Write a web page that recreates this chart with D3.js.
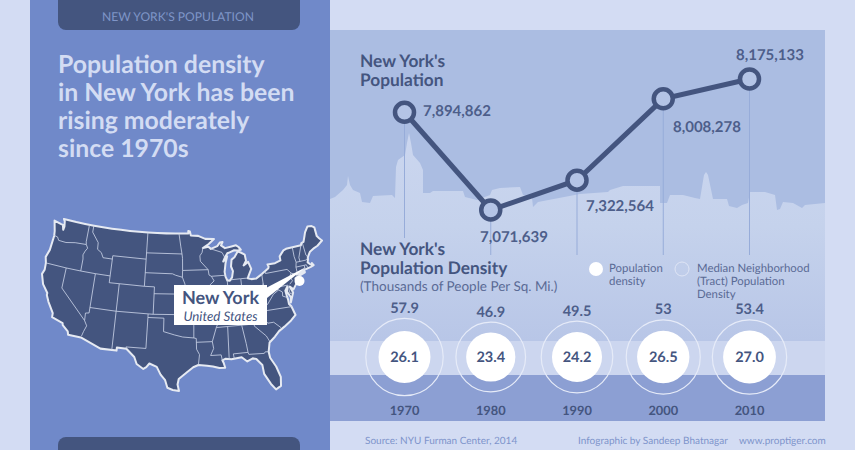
<!DOCTYPE html>
<html>
<head>
<meta charset="utf-8">
<script src="https://cdnjs.cloudflare.com/ajax/libs/d3/7.8.5/d3.min.js"></script>
<style>
  html, body { margin: 0; padding: 0; background: #d3dcf3; overflow: hidden; }
  svg { display: block; }
  text { font-family: Lato, sans-serif; text-rendering: geometricPrecision; }
</style>
</head>
<body>
<svg id="chart" width="855" height="450"></svg>
<script>
// chart values
const years = [1970, 1980, 1990, 2000, 2010];
const population = [7894862, 7071639, 7322564, 8008278, 8175133];
const density = [26.1, 23.4, 24.2, 26.5, 27.0];
const medianDensity = ["57.9", "46.9", "49.5", "53", "53.4"];
const headline = ["Population density", "in New York has been", "rising moderately", "since 1970s"];

// skyline silhouette: distance along the panel, height above the light band
const skyline = [[0,142],[5,144],[13,151],[17,156],[18,165],[20,156],[23,151],[30,148],[32,139],[40,138],[43,145],
  [62,146],[65,143],[66,174],[68,181],[75,186],[77,198],[79,208],[81,198],[83,186],[90,178],[93,171],[93,148],
  [100,148],[103,150],[133,150],[135,144],[147,141],[160,146],[162,151],[170,153],[190,154],[193,146],[202,143],
  [203,134],[208,139],[250,147],[278,149],[280,151],[293,155],[294,155],[330,155],[330,138],[331,138],[337,138],
  [340,146],[353,146],[365,143],[370,142],[374,166],[376,169],[378,166],[383,142],[397,142],[399,135],[407,133],
  [412,136],[418,138],[420,149],[435,149],[445,146],[447,131],[450,132],[453,139],[463,138],[472,133],[475,136],[495,138]];

// state outline and borders as lon/lat
const usOutline = [[-124.7,48.4],[-123.1,48.15],[-122.7,48.1],[-122.4,47.4],[-122.3,47.9],[-122.5,48.7],[-122.8,49],
  [-120,49],[-118,49],[-116,49],[-114,49],[-112,49],[-110,49],[-108,49],[-106,49],[-104,49],[-102,49],[-100,49],[-98,49],
  [-97.2,49],[-95.15,49],[-95.15,49.38],[-94.8,49.3],[-94.6,48.7],[-93,48.6],[-91.5,48.1],[-89.6,48],[-90.8,47.3],[-92.1,46.75],
  [-90.9,46.9],[-90.4,46.55],[-89,46.9],[-88.4,47.4],[-87.8,47.45],[-88.2,46.95],[-87.4,46.5],[-86,46.65],[-85,46.75],[-84.5,46.45],
  [-84.1,46],[-84.7,45.95],[-85.5,46.05],[-86.5,45.8],[-87,45.7],[-87.6,45.1],[-88,44.55],[-87.4,44.9],[-87.1,45.25],[-87.55,44.3],
  [-87.9,43],[-87.8,42.3],[-87.5,41.7],[-87,41.65],[-86.5,42.1],[-86.2,43],[-86.5,43.7],[-86.25,44.7],[-85.6,45],[-85,45.6],[-84.75,45.78],
  [-84.2,45.6],[-83.4,45.2],[-83.3,44.3],[-83.9,43.65],[-82.9,44.07],[-82.45,43],[-82.9,42.4],[-83.2,42],[-83.4,41.7],[-82.7,41.5],
  [-81.7,41.5],[-80.5,42],[-79,42.7],[-78.9,42.9],[-79.05,43.27],[-77.5,43.25],[-76.3,43.5],[-76.3,44.1],[-75.3,44.85],[-74.7,45],
  [-71.5,45],[-71.3,45.3],[-70.8,45.4],[-70.3,46.2],[-70,46.7],[-69.2,47.45],[-68.3,47.35],[-67.8,47.05],[-67.8,45.7],[-67.45,45.3],
  [-67,44.85],[-68.2,44.3],[-69,44.1],[-70,43.75],[-70.7,43.05],[-70.8,42.7],[-71,42.3],[-70.6,41.95],[-70,41.75],[-70.2,42.05],
  [-69.95,41.7],[-70.6,41.55],[-71.4,41.45],[-72.9,41.25],[-73.7,40.95],[-72,41.1],[-72,41],[-73.9,40.55],[-74.1,40.45],[-74,39.8],
  [-74.9,38.95],[-75.5,39.45],[-75.1,38.5],[-75.9,37.15],[-75.7,37.9],[-76.2,38.8],[-76,39.5],[-76.5,39],[-76.4,38.2],[-76.3,37.6],
  [-76.3,37],[-75.95,36.6],[-75.5,35.25],[-76.5,34.6],[-77.9,33.9],[-79,33.4],[-79.9,32.7],[-81,32],[-81.4,30.7],[-81.3,29.8],
  [-80.5,28.4],[-80,26.8],[-80.2,25.5],[-81.1,25.1],[-81.8,26],[-82.7,27.6],[-82.8,28.9],[-83.7,29.9],[-84.3,30.05],[-85.3,29.7],
  [-86.2,30.4],[-88,30.25],[-89,30.4],[-89.6,30.2],[-89.4,29.8],[-89.2,29.1],[-90.2,29.1],[-91.3,29.4],[-92.3,29.55],[-93.8,29.7],
  [-94.7,29.4],[-95.9,28.6],[-97.2,27.7],[-97.4,26.9],[-97.15,25.95],[-98.2,26.1],[-99.1,26.4],[-99.5,27.5],[-100.3,28.3],[-101,29.4],
  [-102.3,29.85],[-102.8,29.3],[-103.3,29],[-104.5,29.65],[-105,30.65],[-106.5,31.75],[-108.2,31.78],[-108.2,31.33],[-111.07,31.33],
  [-114.8,32.5],[-117.12,32.53],[-117.3,33],[-118.4,33.75],[-118.5,34.03],[-120.6,34.55],[-120.65,35.15],[-121.9,36.6],[-122.5,37.5],
  [-122.5,37.8],[-123.7,38.9],[-124.4,40.3],[-124.1,41],[-124.2,42],[-124.55,42.85],[-124.1,44],[-123.95,46.2],[-124.1,46.9],[-124.7,48.4]];

const usBorders = [
  [[-124,46.25],[-123.2,46.15],[-122.8,45.7],[-121.2,45.65],[-119.3,45.93],[-116.92,46]],
  [[-117.03,49],[-117.04,46.4],[-116.92,46],[-116.5,45.5],[-116.9,45],[-117.2,44.4],[-117.03,43.8],[-117.03,42]],
  [[-124.2,42],[-120,42],[-117.03,42],[-114.04,42],[-111.05,42]],
  [[-120,42],[-120,39],[-114.63,35],[-114.1,34.3],[-114.5,33.4],[-114.72,32.72]],
  [[-114.04,42],[-114.04,36.2],[-114.7,36.1],[-114.63,35]],
  [[-116.05,49],[-116.05,48],[-114.5,46.6],[-114.4,45.6],[-113.5,45.2],[-113,44.5],[-111.05,44.5]],
  [[-111.05,45],[-104.05,45],[-104.05,41],[-111.05,41],[-111.05,45]],
  [[-109.05,41],[-109.05,37]],
  [[-104.05,41],[-102.05,41],[-102.05,37],[-109.05,37]],
  [[-114.04,37],[-109.05,37],[-109.05,31.33]],
  [[-103,37],[-103,36.5],[-103.05,32],[-106.6,32],[-106.5,31.75]],
  [[-103,36.5],[-100,36.5],[-100,34.55],[-98,34.1],[-96.5,33.8],[-94.48,33.64],[-94.04,33.55],[-94.04,32],[-93.55,31.2],[-93.8,29.7]],
  [[-102.05,37],[-94.62,37],[-94.43,35.4],[-94.48,33.64]],
  [[-94.04,33],[-91.17,33],[-91,32],[-91.6,31],[-89.75,31],[-89.6,30.2]],
  [[-104.05,43],[-98.5,43],[-97.9,42.8],[-96.5,42.5]],
  [[-102.05,40],[-95.3,40]],
  [[-104.05,49],[-104.05,45]],
  [[-104.05,45.94],[-96.56,45.94]],
  [[-97.2,49],[-96.8,47],[-96.56,45.94],[-96.45,45.3],[-96.45,43.5],[-96.5,42.5],[-96,41.5],[-95.85,40.6],[-95.3,40],[-94.62,39.1],[-94.62,37]],
  [[-96.45,43.5],[-91.22,43.5]],
  [[-95.77,40.58],[-91.7,40.6],[-91.4,40.4]],
  [[-92.1,46.75],[-92.3,46.1],[-92.8,45.6],[-92.75,44.8],[-91.22,43.5],[-91.1,42.7],[-90.64,42.5],[-90.15,41.8],[-91.1,41.2],[-91.4,40.4],[-90.7,39],[-90.2,38.7],[-89.5,37.3],[-89.15,37],[-89.4,36.5],[-89.7,36],[-90.3,35],[-91.17,33]],
  [[-90.64,42.5],[-87.8,42.5]],
  [[-90.4,46.55],[-88.1,45.9],[-87.6,45.1]],
  [[-87.53,41.7],[-87.53,39.3],[-88.05,37.8]],
  [[-86.8,41.76],[-84.8,41.76],[-83.45,41.73]],
  [[-84.8,41.7],[-84.8,39.1]],
  [[-89.15,37],[-88.05,37.8],[-86.5,38],[-85.5,38.6],[-84.8,39.1],[-84.2,38.8],[-82.6,38.4],[-81.8,39],[-80.85,39.7],[-80.52,40.64],[-80.52,42]],
  [[-79.76,42.27],[-79.76,42],[-75.35,42],[-74.7,41.35],[-75.1,40.9],[-74.75,40.2],[-75.4,39.8]],
  [[-80.52,40.64],[-80.52,39.72],[-75.8,39.72],[-75.7,38.46],[-75.05,38.46]],
  [[-79.48,39.72],[-79.48,39.2],[-78.4,39.6],[-77.75,39.3],[-77.1,38.9],[-77.2,38.3],[-76.3,37.95]],
  [[-77.75,39.3],[-78.9,38.8],[-80.3,37.5],[-81.7,37.2],[-82,37.5],[-82.6,38.4]],
  [[-82,37.5],[-83.68,36.6]],
  [[-89.4,36.5],[-83.68,36.6],[-75.9,36.55]],
  [[-94.62,36.5],[-90.15,36.5],[-90.35,36],[-89.7,36]],
  [[-90.3,35],[-84.3,35],[-83.1,35],[-83.35,34.7],[-81.4,33],[-80.9,32.05]],
  [[-84.3,35],[-83.1,35.75],[-81.7,36.59]],
  [[-88.2,35],[-88.4,30.25]],
  [[-85.6,35],[-85.15,32.3],[-85,31],[-84.9,30.7],[-82.2,30.55],[-82,30.75],[-81.45,30.7]],
  [[-87.6,31],[-85,31]],
  [[-87.6,31],[-87.5,30.3]],
  [[-83.1,35],[-82.3,35.2],[-81,35.1],[-80.8,34.8],[-79.7,34.8],[-78.55,33.85]],
  [[-73.35,45],[-73.4,43.6],[-73.25,42.75],[-73.5,42.05],[-73.5,41.3],[-73.7,41]],
  [[-71.5,45],[-72.5,43.3],[-72.46,42.73]],
  [[-73.25,42.73],[-71.3,42.7],[-70.8,42.87]],
  [[-73.5,42.04],[-71.8,42.02],[-71.38,42.02],[-71.2,41.5]],
  [[-71.8,42.02],[-71.85,41.32]],
  [[-71.1,45.3],[-70.98,43.4],[-70.7,43.07]],
  [[-74.7,41.35],[-73.9,41]]
];

const dark = "#44557f";
const svg = d3.select("#chart");

// page, panels and bands
const defs = svg.append("defs");
const skyFade = defs.append("linearGradient").attr("id", "skyFade").attr("x2", 0).attr("y2", 1);
skyFade.append("stop").attr("offset", 0).attr("stop-color", "#cbd6ef");
skyFade.append("stop").attr("offset", 0.45).attr("stop-color", "#c5d2ec");
skyFade.append("stop").attr("offset", 1).attr("stop-color", "#b8c6e7");

svg.append("rect").attr("width", 855).attr("height", 450).attr("fill", "#d3dcf3");
svg.append("rect").attr("x", 30).attr("width", 300).attr("height", 450).attr("fill", "#7089c9");
svg.append("rect").attr("x", 330).attr("y", 30).attr("width", 495).attr("height", 311).attr("fill", "#abbde2");
svg.append("rect").attr("x", 330).attr("y", 341).attr("width", 495).attr("height", 34).attr("fill", "#ccd6ef");
svg.append("rect").attr("x", 330).attr("y", 375).attr("width", 495).attr("height", 46).attr("fill", "#8c9fd3");
svg.append("rect").attr("x", 58).attr("y", -10).attr("width", 242).attr("height", 40).attr("rx", 8).attr("fill", dark);
svg.append("rect").attr("x", 58).attr("y", 437).attr("width", 242).attr("height", 30).attr("rx", 8).attr("fill", dark);

// skyline
const skyX = d3.scaleLinear().domain([0, 495]).range([330, 825]);
const skyY = d3.scaleLinear().domain([0, 208]).range([341, 133]);
const skyArea = d3.area().x(d => skyX(d[0])).y0(skyY(0)).y1(d => skyY(d[1]));
svg.append("path").datum(skyline).attr("d", skyArea).attr("fill", "url(#skyFade)");

// left column text
svg.append("text").attr("x", 178).attr("y", 21).attr("text-anchor", "middle")
  .attr("font-size", 12.1).attr("fill", "#7f95c8").text("NEW YORK'S POPULATION");
svg.append("g").selectAll("text").data(headline).join("text")
  .attr("x", 58).attr("y", (d, i) => 73 + i * 28)
  .attr("font-size", 24.8).attr("font-weight", 700).attr("fill", "#d3dcf3").text(d => d);

// map, flatter cone than the usual Albers, stretched a little to the reference height
const projection = d3.geoAlbers().parallels([25, 42]).rotate([97, 0]).center([0, 38]);
const outline = { type: "Polygon", coordinates: [usOutline] };
projection.fitExtent([[42, 219], [322, 391]], outline);
const geoPath = d3.geoPath(projection);
const bounds = geoPath.bounds(outline);
const stretch = (391 - 219) / (bounds[1][1] - bounds[0][1]);
const mapGroup = svg.append("g")
  .attr("transform", `translate(0,${219 - bounds[0][1] * stretch}) scale(1,${stretch})`);
mapGroup.append("path").datum(outline).attr("d", geoPath)
  .attr("fill", dark).attr("stroke", "#e6eaf2").attr("stroke-width", 2).attr("stroke-linejoin", "round");
mapGroup.append("path").datum({ type: "MultiLineString", coordinates: usBorders }).attr("d", geoPath)
  .attr("fill", "none").attr("stroke", "#cdd6ea").attr("stroke-width", 0.8);

// map callout
svg.append("path").attr("d", d3.line()([[266, 288], [306, 267], [267, 298]])).attr("fill", "#fff");
svg.append("rect").attr("x", 174).attr("y", 285).attr("width", 93).attr("height", 40).attr("fill", "#fff");
svg.append("circle").attr("cx", 299.5).attr("cy", 281).attr("r", 5).attr("fill", "#fff");
svg.append("text").attr("x", 220.5).attr("y", 304).attr("text-anchor", "middle")
  .attr("font-size", 18).attr("font-weight", 700).attr("fill", dark).text("New York");
svg.append("text").attr("x", 220.5).attr("y", 321).attr("text-anchor", "middle")
  .attr("font-size", 13.3).attr("font-style", "italic").attr("fill", dark).text("United States");

// population line
const x = d3.scaleLinear().domain([1970, 2010]).range([404.5, 749.5]);
const y = d3.scaleLinear().domain([7071639, 8175133]).range([210, 79]);
const points = years.map((yr, i) => ({ year: yr, value: population[i] }));

// guide lines stop above the density title for the first year
const guideEnd = [238, 255, 255, 255, 255];
svg.append("g").selectAll("line").data(points).join("line")
  .attr("x1", d => x(d.year)).attr("x2", d => x(d.year))
  .attr("y1", d => y(d.value)).attr("y2", (d, i) => guideEnd[i])
  .attr("stroke", "#97acd9").attr("stroke-width", 1);

svg.append("path").datum(points)
  .attr("d", d3.line().x(d => x(d.year)).y(d => y(d.value)))
  .attr("fill", "none").attr("stroke", dark).attr("stroke-width", 5);

svg.append("g").selectAll("circle").data(points).join("circle")
  .attr("cx", d => x(d.year)).attr("cy", d => y(d.value)).attr("r", 9.5)
  .attr("fill", "#b4c4e6").attr("stroke", dark).attr("stroke-width", 4.5);

// value labels sit at different sides of each point
const labelDx = [18.5, -10.75, 9, 9.75, -13.5];
const labelDy = [3.5, 32, 31, 33, -19];
svg.append("g").selectAll("text").data(points).join("text")
  .attr("x", (d, i) => x(d.year) + labelDx[i]).attr("y", (d, i) => y(d.value) + labelDy[i])
  .attr("font-size", 15).attr("font-weight", 700).attr("fill", "#4d5e8a")
  .text(d => d3.format(",")(d.value));

// section titles
const title = (lines, top, size) => svg.append("g").selectAll("text").data(lines).join("text")
  .attr("x", 360).attr("y", (d, i) => top + i * 19)
  .attr("font-size", size).attr("font-weight", 700).attr("fill", dark).text(d => d);
title(["New York's", "Population"], 67, 17.3);
title(["New York's", "Population Density"], 255, 17.3);
svg.append("text").attr("x", 360).attr("y", 291).attr("font-size", 13.5).attr("fill", "#5a6a95")
  .text("(Thousands of People Per Sq. Mi.)");

// legend
svg.append("circle").attr("cx", 596).attr("cy", 269).attr("r", 7).attr("fill", "#fff");
svg.append("circle").attr("cx", 682).attr("cy", 269).attr("r", 7).attr("fill", "none").attr("stroke", "#dfe5f5").attr("stroke-width", 1);
const legend = (lines, left) => svg.append("g").selectAll("text").data(lines).join("text")
  .attr("x", left).attr("y", (d, i) => 272 + i * 13)
  .attr("font-size", 11.4).attr("fill", "#5a6a95").text(d => d);
legend(["Population", "density"], 609);
legend(["Median Neighborhood", "(Tract) Population", "Density"], 697);

// density circles, same area scale for both rings
const r = d3.scaleSqrt().domain([0, 57.9]).range([0, 38.7]);
const cy = 357;
const rings = svg.append("g").selectAll("g").data(years).join("g")
  .attr("transform", d => `translate(${x(d)},${cy})`);
rings.append("circle").attr("r", (d, i) => r(+medianDensity[i]))
  .attr("fill", "none").attr("stroke", "#e6ebf8").attr("stroke-width", 1.2);
rings.append("circle").attr("r", (d, i) => r(density[i])).attr("fill", "#fff");
rings.append("text").attr("y", 5).attr("text-anchor", "middle")
  .attr("font-size", 14.5).attr("font-weight", 700).attr("fill", dark)
  .text((d, i) => d3.format(".1f")(density[i]));
rings.append("text").attr("y", (d, i) => -r(+medianDensity[i]) - 5.5).attr("text-anchor", "middle")
  .attr("font-size", 14.5).attr("font-weight", 700).attr("fill", "#4d5e8a")
  .text((d, i) => medianDensity[i]);
rings.append("text").attr("y", 415 - cy).attr("text-anchor", "middle")
  .attr("font-size", 12.8).attr("font-weight", 700).attr("fill", dark).text(d => d);

// footer
const foot = (txt, left) => svg.append("text").attr("x", left).attr("y", 444)
  .attr("font-size", 10).attr("fill", "#7e94cb").text(txt);
foot("Source: NYU Furman Center, 2014", 365);
foot("Infographic by Sandeep Bhatnagar", 578);
foot("www.proptiger.com", 739);
</script>
</body>
</html>
